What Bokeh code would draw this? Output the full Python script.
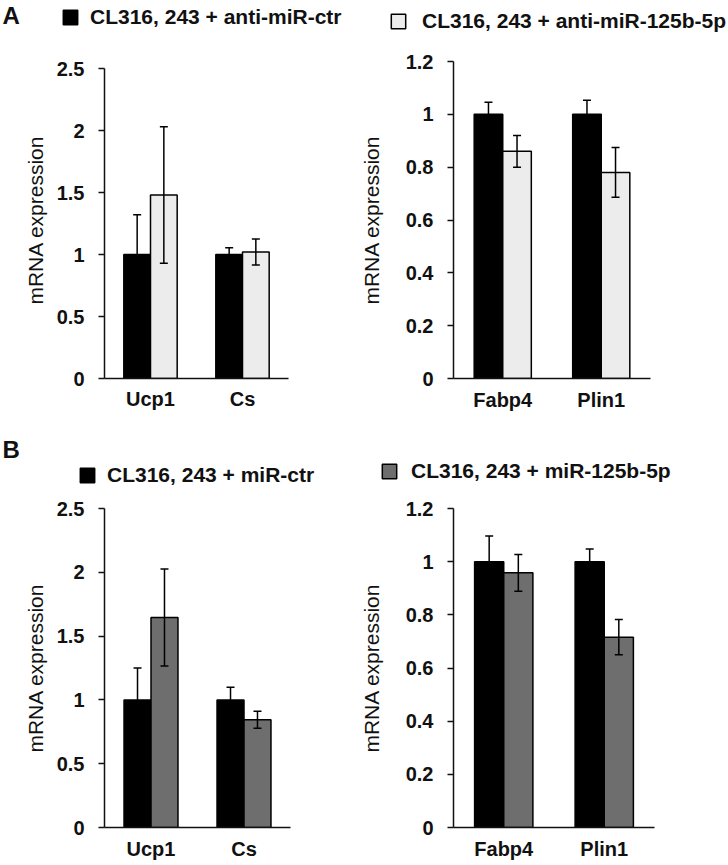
from bokeh.plotting import figure
from bokeh.models import (ColumnDataSource, FactorRange, Range1d, FixedTicker,
                          Whisker, TeeHead, Legend, LegendItem, Label)
from bokeh.transform import dodge
from bokeh.layouts import column, row
from bokeh.embed import file_html
from bokeh.resources import INLINE

FONT = "Liberation Sans"
TXT = "#111111"

# ---------------- data ----------------
genes_a_left = ["Ucp1", "Cs"]
a_left_ctr = [1.0, 1.0]
a_left_ctr_err = [0.32, 0.055]
a_left_anti = [1.48, 1.02]
a_left_anti_err = [0.55, 0.105]

genes_a_right = ["Fabp4", "Plin1"]
a_right_ctr = [1.0, 1.0]
a_right_ctr_err = [0.046, 0.053]
a_right_anti = [0.86, 0.78]
a_right_anti_err = [0.06, 0.094]

genes_b_left = ["Ucp1", "Cs"]
b_left_ctr = [1.0, 1.0]
b_left_ctr_err = [0.25, 0.10]
b_left_mir = [1.645, 0.845]
b_left_mir_err = [0.38, 0.067]

genes_b_right = ["Fabp4", "Plin1"]
b_right_ctr = [1.0, 1.0]
b_right_ctr_err = [0.097, 0.048]
b_right_mir = [0.958, 0.716]
b_right_mir_err = [0.069, 0.066]

ticks_left = [0, 0.5, 1, 1.5, 2, 2.5]
ticks_right = [0, 0.2, 0.4, 0.6, 0.8, 1.0, 1.2]

legend_labels = ["CL316, 243 + anti-miR-ctr", "CL316, 243 + anti-miR-125b-5p",
                 "CL316, 243 + miR-ctr", "CL316, 243 + miR-125b-5p"]

LIGHT = "#ececec"
DARK = "#6e6e6e"
BAR_W = 0.29
OFF = BAR_W / 2


def make_source(genes, ctr, ctr_err, trt, trt_err):
    return ColumnDataSource(dict(
        gene=genes, ctr=ctr, trt=trt,
        ctr_lo=[v - e for v, e in zip(ctr, ctr_err)],
        ctr_hi=[v + e for v, e in zip(ctr, ctr_err)],
        trt_lo=[v - e for v, e in zip(trt, trt_err)],
        trt_hi=[v + e for v, e in zip(trt, trt_err)],
    ))


def make_panel(genes, src, trt_color, ymax, yticks, geom, ylabel_standoff,
               xlabel_standoff, axis_px=None):
    fw, fh, bl, br, bt, bb = geom
    # axis_px: pixel length of the drawn y axis (0..ymax); the frame may be taller
    axis_px = axis_px or fh
    yend = ymax * fh / axis_px
    p = figure(x_range=FactorRange(*genes), y_range=Range1d(0, yend),
               frame_width=fw, frame_height=fh,
               min_border_left=bl, min_border_right=br,
               min_border_top=bt, min_border_bottom=bb,
               toolbar_location=None, tools="", output_backend="svg")
    p.outline_line_color = None
    p.xgrid.grid_line_color = None
    p.ygrid.grid_line_color = None
    p.background_fill_color = "white"
    p.border_fill_color = "white"

    p.vbar(x=dodge("gene", -OFF, range=p.x_range), top="ctr", width=BAR_W,
           source=src, fill_color="black", line_color="black", line_width=1.5)
    p.vbar(x=dodge("gene", OFF, range=p.x_range), top="trt", width=BAR_W,
           source=src, fill_color=trt_color, line_color="black", line_width=1.5)

    for off, lo, hi in ((-OFF, "ctr_lo", "ctr_hi"), (OFF, "trt_lo", "trt_hi")):
        w = Whisker(source=src, base=dodge("gene", off, range=p.x_range),
                    lower=lo, upper=hi, line_color="black", line_width=1.5,
                    upper_head=TeeHead(size=8, line_width=1.5, line_color="black"),
                    lower_head=TeeHead(size=8, line_width=1.5, line_color="black"),
                    level="overlay")
        p.add_layout(w)

    xa = p.xaxis[0]
    xa.major_tick_line_color = None
    xa.major_tick_out = 0
    xa.minor_tick_line_color = None
    xa.axis_line_width = 1.5
    xa.axis_line_color = "#111111"
    xa.major_label_text_font = FONT
    xa.major_label_text_font_size = "20px"
    xa.major_label_text_font_style = "bold"
    xa.major_label_text_color = TXT
    xa.major_label_standoff = xlabel_standoff

    ya = p.yaxis[0]
    ya.ticker = FixedTicker(ticks=yticks)
    ya.bounds = (0, ymax)
    ya.major_label_overrides = {t: f"{t:g}" for t in yticks}
    ya.minor_tick_line_color = None
    ya.major_tick_in = 0
    ya.major_tick_out = 6
    ya.major_tick_line_width = 1.5
    ya.major_tick_line_color = "#111111"
    ya.axis_line_width = 1.5
    ya.axis_line_color = "#111111"
    ya.major_label_text_font = FONT
    ya.major_label_text_font_size = "20px"
    ya.major_label_text_font_style = "bold"
    ya.major_label_text_color = TXT
    ya.major_label_standoff = 14
    ya.axis_label = "mRNA expression"
    ya.axis_label_text_font = FONT
    ya.axis_label_text_font_size = "21px"
    ya.axis_label_text_font_style = "normal"
    ya.axis_label_text_color = TXT
    ya.axis_label_standoff = ylabel_standoff
    return p


def make_legend_fig(width, height, genes, src, column_name, label, color, loc, standoff,
                    letter=None, letter_loc=None):
    lp = figure(width=width, height=height, x_range=FactorRange(*genes),
                y_range=Range1d(0, 1),
                min_border_left=0, min_border_right=0, min_border_top=0,
                min_border_bottom=0, x_axis_type=None, y_axis_type=None,
                toolbar_location=None, tools="", output_backend="svg")
    lp.outline_line_color = None
    lp.grid.visible = False
    lp.background_fill_color = "white"
    lp.border_fill_color = "white"
    # hidden copy of the series: only its legend swatch is shown
    r = lp.vbar(x="gene", top=column_name, width=BAR_W, source=src, fill_color=color,
                line_color="black", line_width=1.5, visible=False)
    leg = Legend(items=[LegendItem(label=label, renderers=[r])], location=loc,
                 glyph_width=18, glyph_height=18,
                 label_text_font=FONT, label_text_font_size="21px",
                 label_text_font_style="bold", label_text_color=TXT,
                 label_standoff=standoff, padding=0, margin=0,
                 border_line_color=None, background_fill_alpha=0, label_height=18,
                 inactive_fill_alpha=0)
    lp.add_layout(leg)
    if letter:
        lp.add_layout(Label(x=letter_loc[0], y=letter_loc[1], x_units="screen",
                            y_units="screen", text=letter, text_font=FONT,
                            text_font_size="24px", text_font_style="bold",
                            text_color=TXT, text_baseline="alphabetic"))
    return lp


src1 = make_source(genes_a_left, a_left_ctr, a_left_ctr_err, a_left_anti, a_left_anti_err)
src2 = make_source(genes_a_right, a_right_ctr, a_right_ctr_err, a_right_anti, a_right_anti_err)
src3 = make_source(genes_b_left, b_left_ctr, b_left_ctr_err, b_left_mir, b_left_mir_err)
src4 = make_source(genes_b_right, b_right_ctr, b_right_ctr_err, b_right_mir, b_right_mir_err)

LW, RW = 356, 372

la1 = make_legend_fig(LW, 48, genes_a_left, src1, "ctr", legend_labels[0], "black",
                      (61, 19), 11, letter="A", letter_loc=(2, 33))
la2 = make_legend_fig(RW, 48, genes_a_right, src2, "trt", legend_labels[1], LIGHT,
                      (33, 15), 15)
lb1 = make_legend_fig(LW, 58, genes_b_left, src3, "ctr", legend_labels[2], "black",
                      (78, 1), 11, letter="B", letter_loc=(2, 39))
lb2 = make_legend_fig(RW, 58, genes_b_right, src4, "trt", legend_labels[3], DARK,
                      (24, 5), 13)

p1 = make_panel(genes_a_left, src1, LIGHT, 2.5, ticks_left, (184, 317, 104, 68, 13, 52),
                7, 9, axis_px=310)
p2 = make_panel(genes_a_right, src2, LIGHT, 1.2, ticks_right, (197, 317, 94, 81, 13, 52), 20, 10)
p3 = make_panel(genes_b_left, src3, DARK, 2.5, ticks_left, (186, 319, 104, 66, 20, 37), 7, 10)
p4 = make_panel(genes_b_right, src4, DARK, 1.2, ticks_right, (201, 319, 94, 77, 20, 37), 20, 10)

layout = column(row(la1, la2), row(p1, p2), row(lb1, lb2), row(p3, p4))

open("out.html", "w").write(file_html(layout, INLINE))
